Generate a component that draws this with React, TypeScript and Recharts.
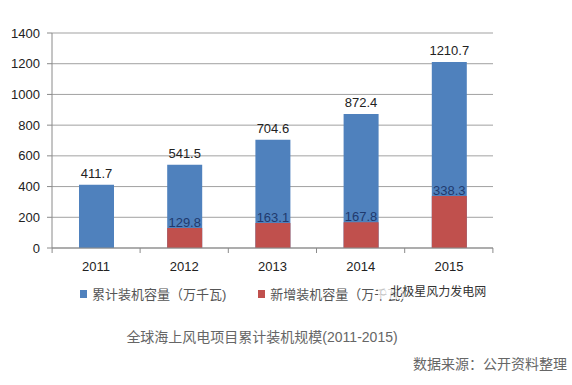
import React from "react";
import { BarChart, Bar, XAxis, YAxis, CartesianGrid, LabelList, Legend } from "recharts";

const years = ["2011", "2012", "2013", "2014", "2015"];
const cumulative = [411.7, 541.5, 704.6, 872.4, 1210.7];
const added: (number | null)[] = [null, 129.8, 163.1, 167.8, 338.3];
const yTicks = [0, 200, 400, 600, 800, 1000, 1200, 1400];
const cumName = "累计装机容量（万千瓦)";
const addName = "新增装机容量（万千瓦)";
const title = "全球海上风电项目累计装机规模(2011-2015)";
const source = "数据来源：公开资料整理";
const watermark = "北极星风力发电网";

const data = years.map((y, i) => ({ year: y, cum: cumulative[i], add: added[i] }));

const FONT = "'Liberation Sans', 'Noto Sans CJK SC', sans-serif";
const BLUE = "#4F81BD";
const RED = "#C0504D";
const AXIS = "#8a8a8a";

const XTick = (props: any) => {
  const { x, y, payload, index } = props;
  const half = 44;
  return (
    <g>
      <line x1={x + half} x2={x + half} y1={y} y2={y + 5} stroke={AXIS} />
      {index === 0 ? <line x1={x - half} x2={x - half} y1={y} y2={y + 5} stroke={AXIS} /> : null}
      <text x={x} y={y + 23} textAnchor="middle" fontSize={13} fill="#222" fontFamily={FONT}>
        {payload.value}
      </text>
    </g>
  );
};

const renderLegend = () => (
  <div style={{ display: "flex", alignItems: "center", fontFamily: FONT, fontSize: 13, color: "#555", whiteSpace: "nowrap" }}>
    <span style={{ display: "inline-block", width: 7, height: 8, background: BLUE, marginRight: 5 }} />
    <span>{cumName}</span>
    <span style={{ display: "inline-block", width: 7, height: 8, background: RED, marginLeft: 32, marginRight: 5 }} />
    <span>{addName}</span>
  </div>
);

export default function App() {
  return (
    <div style={{ position: "absolute", left: 0, top: 0, width: 572, height: 385, background: "#fff" }}>
      <BarChart
        width={572}
        height={385}
        data={data}
        margin={{ top: 33, right: 79, left: 12, bottom: 107 }}
        barGap={-35}
        barCategoryGap={0}
      >
        <CartesianGrid vertical={false} stroke={AXIS} strokeOpacity={0.8} />
        <XAxis
          dataKey="year"
          tickLine={false}
          tickSize={0}
          tickMargin={0}
          axisLine={{ stroke: AXIS }}
          tick={<XTick />}
          interval={0}
        />
        <YAxis
          width={40}
          domain={[0, 1400]}
          ticks={yTicks}
          tickSize={5}
          tickMargin={7}
          tickLine={{ stroke: AXIS }}
          axisLine={{ stroke: AXIS }}
          tick={{ fontSize: 13, fill: "#222", fontFamily: FONT }}
        />
        <Legend
          layout="vertical"
          verticalAlign="middle"
          align="center"
          content={renderLegend}
          wrapperStyle={{ position: "absolute", left: 80, top: 284, width: "auto" }}
        />
        <Bar dataKey="cum" name={cumName} fill={BLUE} barSize={35} isAnimationActive={false}>
          <LabelList dataKey="cum" position="top" offset={7} fontSize={13} fill="#222" fontFamily={FONT} />
        </Bar>
        <Bar dataKey="add" name={addName} fill={RED} barSize={35} isAnimationActive={false}>
          <LabelList dataKey="add" position="top" offset={1} fontSize={13} fill="#1F3A6E" fontFamily={FONT} />
        </Bar>
      </BarChart>
      <div
        style={{
          position: "absolute",
          left: 378,
          top: 282,
          fontFamily: FONT,
          fontSize: 12,
          color: "#333",
          background: "rgba(255,255,255,0.75)",
          padding: "0 2px",
        }}
      >
        <span style={{ color: "#888", marginRight: 3 }}>◌</span>
        {watermark}
      </div>
      <div
        style={{
          position: "absolute",
          left: 0,
          width: 524,
          top: 326,
          textAlign: "center",
          fontFamily: FONT,
          fontSize: 14,
          color: "#666",
        }}
      >
        {title}
      </div>
      <div
        style={{
          position: "absolute",
          right: 5,
          top: 353,
          fontFamily: FONT,
          fontSize: 14,
          color: "#666",
        }}
      >
        {source}
      </div>
    </div>
  );
}
